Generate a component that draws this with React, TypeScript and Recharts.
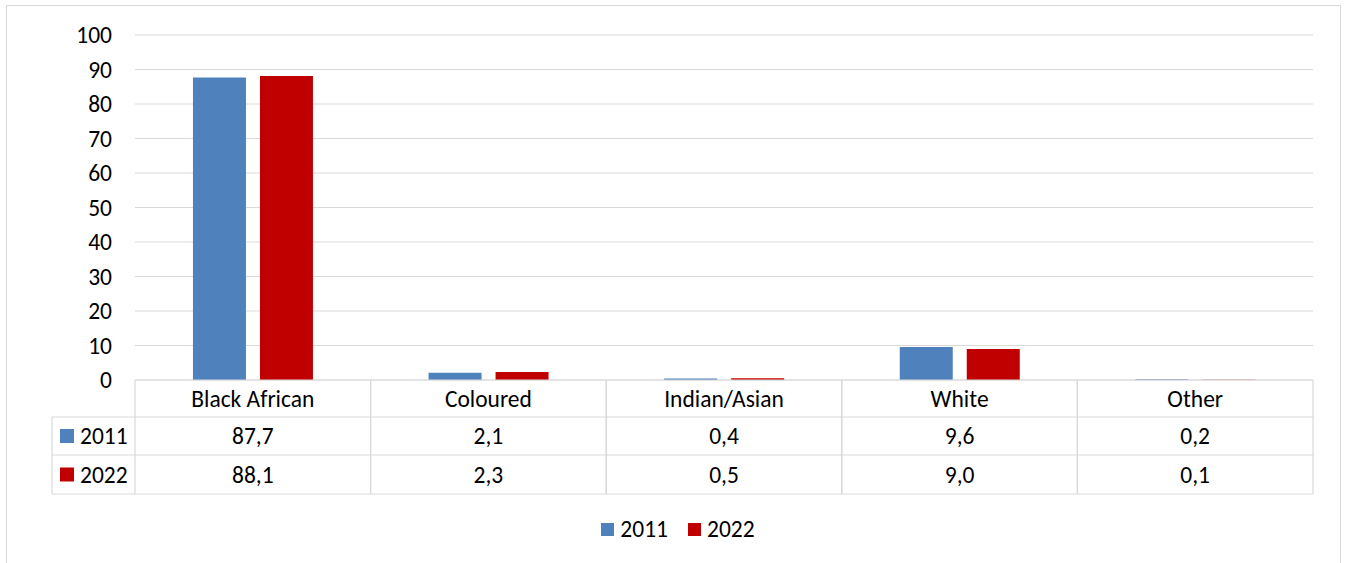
import React from "react"
import {
  BarChart,
  Bar,
  XAxis,
  YAxis,
  CartesianGrid,
  Legend,
} from "recharts"

const categories = ["Black African", "Coloured", "Indian/Asian", "White", "Other"]
const seriesNames = ["2011", "2022"]
const values2011 = [87.7, 2.1, 0.4, 9.6, 0.2]
const values2022 = [88.1, 2.3, 0.5, 9.0, 0.1]
const yTicks = [0, 10, 20, 30, 40, 50, 60, 70, 80, 90, 100]
const colors = ["#4f81bd", "#c00000"]

const seriesValues = [values2011, values2022]

const data = categories.map((c, i) => ({
  name: c,
  s2011: values2011[i],
  s2022: values2022[i],
}))

const W = 1346
const H = 563
const MARGIN = { top: 35, right: 33, left: 0, bottom: 69 }
const Y_W = 135
const X_H = 114
const CELL_W = (W - MARGIN.left - Y_W - MARGIN.right) / categories.length
const ROWS = [0, 37, 75, 114]
const LEFT_COL = 83
const GRID = "#d9d9d9"
const FONT = "Calibri, Carlito, 'Liberation Sans', Arial, sans-serif"
const FS = 23.5

const fmt = (v: number) => v.toFixed(1).replace(".", ",")

function TableTick(props: any) {
  const { x, y, payload } = props
  const idx = categories.indexOf(payload.value)
  const x0 = x - CELL_W / 2
  const x1 = x + CELL_W / 2
  return (
    <g>
      {ROWS.map((r) => (
        <line key={r} x1={x0} x2={x1} y1={y + r} y2={y + r} stroke={GRID} strokeWidth={1.2} />
      ))}
      <line x1={x0} x2={x0} y1={y} y2={y + ROWS[3]} stroke={GRID} strokeWidth={1.2} />
      <line x1={x1} x2={x1} y1={y} y2={y + ROWS[3]} stroke={GRID} strokeWidth={1.2} />
      <text x={x} y={y + 19} textAnchor="middle" dominantBaseline="central" fontSize={FS} fill="#000">
        {payload.value}
      </text>
      {seriesValues.map((vals, s) => (
        <text
          key={s}
          x={x}
          y={y + (ROWS[s + 1] + ROWS[s + 2]) / 2}
          textAnchor="middle"
          dominantBaseline="central"
          fontSize={FS}
          fill="#000"
        >
          {fmt(vals[idx])}
        </text>
      ))}
      {idx === 0 && (
        <g>
          {ROWS.slice(1).map((r) => (
            <line key={r} x1={x0 - LEFT_COL} x2={x0} y1={y + r} y2={y + r} stroke={GRID} strokeWidth={1.2} />
          ))}
          <line x1={x0 - LEFT_COL} x2={x0 - LEFT_COL} y1={y + ROWS[1]} y2={y + ROWS[3]} stroke={GRID} strokeWidth={1.2} />
          {seriesNames.map((n, s) => {
            const cy = y + (ROWS[s + 1] + ROWS[s + 2]) / 2
            return (
              <g key={n}>
                <rect x={x0 - LEFT_COL + 8} y={cy - 7} width={14} height={14} fill={colors[s]} />
                <text x={x0 - LEFT_COL + 28} y={cy} dominantBaseline="central" fontSize={FS} fill="#000">
                  {n}
                </text>
              </g>
            )
          })}
        </g>
      )}
    </g>
  )
}

function LegendContent() {
  return (
    <div style={{ display: "flex", justifyContent: "center", alignItems: "center", gap: 20, fontSize: FS, color: "#000" }}>
      {seriesNames.map((n, s) => (
        <div key={n} style={{ display: "flex", alignItems: "center", gap: 6 }}>
          <span style={{ display: "inline-block", width: 13, height: 13, background: colors[s] }} />
          <span>{n}</span>
        </div>
      ))}
    </div>
  )
}

export default function App() {
  return (
    <div
      style={{
        position: "absolute",
        left: 0,
        top: 0,
        width: W,
        height: H,
        overflow: "hidden",
        background: "#fff",
        fontFamily: FONT,
      }}
    >
      <div
        style={{
          position: "absolute",
          left: 6,
          top: 5,
          width: 1335,
          height: 600,
          border: `1px solid ${GRID}`,
          boxSizing: "border-box",
        }}
      />
      <BarChart
        width={W}
        height={H}
        data={data}
        margin={MARGIN}
        barCategoryGap="24.6%"
        barGap={14}
        style={{ position: "absolute", left: 0, top: 0 }}
      >
        <CartesianGrid vertical={false} stroke={GRID} strokeWidth={1.2} />
        <XAxis
          dataKey="name"
          height={X_H}
          axisLine={false}
          tickLine={false}
          tickSize={0}
          tickMargin={0}
          interval={0}
          tick={<TableTick />}
        />
        <YAxis
          width={Y_W}
          domain={[0, 100]}
          ticks={yTicks}
          interval={0}
          axisLine={false}
          tickLine={false}
          tickSize={0}
          tickMargin={23}
          tick={{ fontSize: FS, fill: "#000" }}
        />
        <Legend
          layout="horizontal"
          verticalAlign="middle"
          align="center"
          content={<LegendContent />}
          wrapperStyle={{ top: 515, left: 5, width: W, height: 28 }}
        />
        <Bar dataKey="s2011" name={seriesNames[0]} fill={colors[0]} isAnimationActive={false} />
        <Bar dataKey="s2022" name={seriesNames[1]} fill={colors[1]} isAnimationActive={false} />
      </BarChart>
    </div>
  )
}
